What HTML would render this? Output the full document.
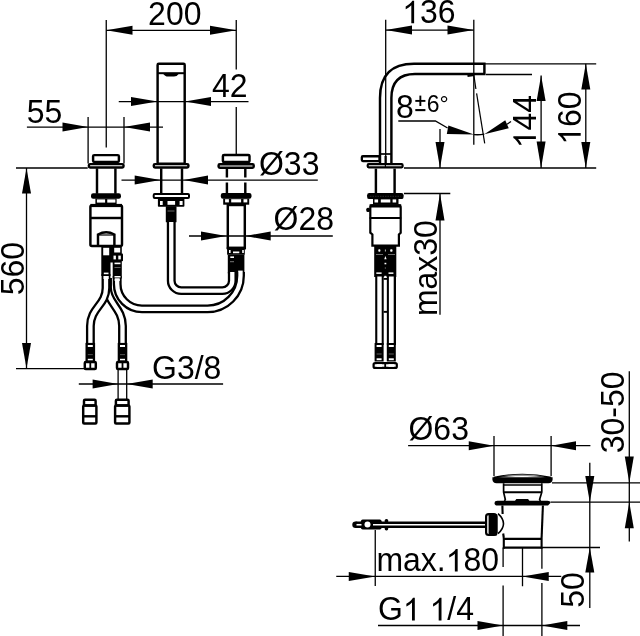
<!DOCTYPE html>
<html><head><meta charset="utf-8"><style>
html,body{margin:0;padding:0;background:#fff;width:640px;height:636px;overflow:hidden}
svg{display:block;will-change:transform}
text{font-family:"Liberation Sans",sans-serif;fill:#000}
</style></head><body>
<svg width="640" height="636" viewBox="0 0 640 636"><g stroke="#000" fill="none">
<line x1="106.25" y1="20" x2="106.25" y2="147.5" stroke-width="1.3"/>
<line x1="236.25" y1="20" x2="236.25" y2="69.4" stroke-width="1.3"/>
<line x1="236.25" y1="106.9" x2="236.25" y2="154.5" stroke-width="1.3"/>
<line x1="106.25" y1="30.3" x2="236.25" y2="30.3" stroke-width="1.3"/>
<polygon fill="#000" stroke="none" points="106.25,30.30 132.50,25.80 132.50,34.80"/>
<polygon fill="#000" stroke="none" points="236.25,30.30 210.00,34.80 210.00,25.80"/>
<g transform="translate(148.1 25.0) scale(1 1.025) translate(-148.1 -25.0)"><text x="148.1" y="25.0" font-size="32" text-anchor="start" fill="#000" stroke="none">200</text></g>
<line x1="118.75" y1="101.6" x2="248.5" y2="101.6" stroke-width="1.3"/>
<polygon fill="#000" stroke="none" points="157.50,101.60 131.00,106.10 131.00,97.10"/>
<polygon fill="#000" stroke="none" points="185.00,101.60 211.00,97.10 211.00,106.10"/>
<g transform="translate(212 96.6) scale(1 1.025) translate(-212 -96.6)"><text x="212" y="96.6" font-size="32" text-anchor="start" fill="#000" stroke="none">42</text></g>
<line x1="26.9" y1="127.1" x2="163" y2="127.1" stroke-width="1.3"/>
<line x1="88.1" y1="117" x2="88.1" y2="163.6" stroke-width="1.3"/>
<line x1="124" y1="117" x2="124" y2="163.6" stroke-width="1.3"/>
<polygon fill="#000" stroke="none" points="88.10,127.10 62.50,131.60 62.50,122.60"/>
<polygon fill="#000" stroke="none" points="124.00,127.10 150.00,122.60 150.00,131.60"/>
<g transform="translate(26.7 123.4) scale(1 1.025) translate(-26.7 -123.4)"><text x="26.7" y="123.4" font-size="32" text-anchor="start" fill="#000" stroke="none">55</text></g>
<rect x="157.6" y="63.7" width="27.099999999999994" height="99.89999999999999" rx="1.2" stroke-width="2.45" fill="none"/>
<line x1="157.5" y1="73.2" x2="185.1" y2="73.2" stroke-width="2"/>
<path d="M162.8,73.2 Q165,76.6 168,76.6 L174,76.6 Q177,76.6 179.4,73.2 Z" stroke-width="0" fill="#000"/>
<rect x="93.1" y="155.1" width="25.80000000000001" height="6.900000000000006" rx="1.2" stroke-width="2.45" fill="none"/>
<rect x="88.9" y="164.1" width="34.599999999999994" height="3.4000000000000057" rx="1.2" stroke-width="2.45" fill="none"/>
<line x1="97" y1="168.3" x2="97" y2="193.8" stroke-width="2.45"/>
<line x1="115.4" y1="168.3" x2="115.4" y2="193.8" stroke-width="2.45"/>
<rect x="91" y="193.2" width="30" height="5.600000000000023" rx="2.2" fill="#000" stroke="none"/>
<rect x="95.4" y="198.5" width="21.19999999999999" height="5.5" rx="0" fill="#000" stroke="none"/>
<rect x="96.9" y="199.4" width="8.199999999999989" height="3.1999999999999886" rx="0" fill="#fff" stroke="none"/>
<rect x="107.25" y="199.4" width="8.150000000000006" height="3.1999999999999886" rx="0" fill="#fff" stroke="none"/>
<rect x="90.4" y="205.5" width="31.599999999999994" height="40.5" rx="1.5" stroke-width="2.45" fill="none"/>
<line x1="90.4" y1="205.5" x2="122" y2="205.5" stroke-width="3.2"/>
<line x1="90.4" y1="218" x2="122" y2="218" stroke-width="2.45"/>
<path d="M98,246 L98,234.5 Q106.2,230 114.4,234.5 L114.4,246" stroke-width="2.45" fill="none"/>
<line x1="98" y1="235" x2="114.4" y2="235" stroke-width="1.2"/>
<rect x="153.8" y="164.1" width="34.599999999999994" height="3.4000000000000057" rx="1.2" stroke-width="2.45" fill="none"/>
<line x1="161.2" y1="168.3" x2="161.2" y2="193.8" stroke-width="2.45"/>
<line x1="182" y1="168.3" x2="182" y2="193.8" stroke-width="2.45"/>
<rect x="153.7" y="194.1" width="35.30000000000001" height="3.8000000000000114" rx="1" stroke-width="2" fill="none"/>
<rect x="157.9" y="197.9" width="26.5" height="8.900000000000006" rx="0.8" fill="#000" stroke="none"/>
<rect x="160" y="201" width="2.6999999999999886" height="4" rx="0" fill="#fff" stroke="none"/>
<rect x="167.5" y="201" width="7.599999999999994" height="3.8000000000000114" rx="0" fill="#fff" stroke="none"/>
<rect x="179.6" y="201" width="3.0" height="4" rx="0" fill="#fff" stroke="none"/>
<rect x="165.8" y="206.3" width="10.699999999999989" height="16.0" rx="0.6" fill="#000" stroke="none"/>
<rect x="167.5" y="210.5" width="7.0" height="1.0" rx="0" fill="#666" stroke="none"/>
<rect x="222.9" y="154.9" width="26.599999999999994" height="7.199999999999989" rx="1.2" stroke-width="2.45" fill="none"/>
<rect x="218.6" y="164.3" width="35.099999999999994" height="3.5" rx="1.2" stroke-width="2.45" fill="none"/>
<line x1="226.9" y1="168.3" x2="226.9" y2="177.5" stroke-width="2.45"/>
<line x1="245.3" y1="168.3" x2="245.3" y2="177.5" stroke-width="2.45"/>
<line x1="226.9" y1="182.5" x2="226.9" y2="193.8" stroke-width="2.45"/>
<line x1="245.3" y1="182.5" x2="245.3" y2="193.8" stroke-width="2.45"/>
<rect x="220.8" y="192.9" width="30.69999999999999" height="5.900000000000006" rx="2.2" fill="#000" stroke="none"/>
<rect x="223.2" y="198.6" width="26.0" height="6.099999999999994" rx="0" fill="#000" stroke="none"/>
<rect x="225.1" y="199.2" width="3.8000000000000114" height="3.200000000000017" rx="0" fill="#fff" stroke="none"/>
<rect x="231.2" y="199.2" width="9.900000000000006" height="3.200000000000017" rx="0" fill="#fff" stroke="none"/>
<rect x="243.5" y="199.2" width="3.8000000000000114" height="3.200000000000017" rx="0" fill="#fff" stroke="none"/>
<rect x="227.8" y="205" width="17.0" height="42.80000000000001" rx="0" stroke-width="2.45" fill="none"/>
<rect x="226.8" y="247" width="19.0" height="2.5" rx="0" fill="#000" stroke="none"/>
<rect x="227.1" y="249" width="17.700000000000017" height="5.699999999999989" rx="0" fill="#000" stroke="none"/>
<rect x="229" y="250" width="1.5999999999999943" height="3" rx="0" fill="#fff" stroke="none"/>
<rect x="233" y="251.5" width="6.300000000000011" height="1.6999999999999886" rx="0" fill="#fff" stroke="none"/>
<rect x="242.2" y="250" width="1.6000000000000227" height="3" rx="0" fill="#fff" stroke="none"/>
<rect x="227.8" y="254.5" width="16.599999999999994" height="18.899999999999977" rx="0" fill="#000" stroke="none"/>
<rect x="230.3" y="256.4" width="3.6999999999999886" height="1.6000000000000227" rx="0" fill="#fff" stroke="none"/>
<rect x="230" y="261.2" width="4" height="1.0" rx="0" fill="#777" stroke="none"/>
<rect x="238.2" y="270.6" width="4.5" height="1.599999999999966" rx="0" fill="#fff" stroke="none"/>
<line x1="121.5" y1="180.1" x2="317.8" y2="180.1" stroke-width="1.3"/>
<polygon fill="#000" stroke="none" points="160.50,180.10 134.70,184.60 134.70,175.60"/>
<polygon fill="#000" stroke="none" points="183.80,180.10 208.00,175.60 208.00,184.60"/>
<g transform="translate(259 175.5) scale(1 1.025) translate(-259 -175.5)"><text x="259" y="175.5" font-size="32" text-anchor="start" fill="#000" stroke="none">Ø33</text></g>
<line x1="189" y1="236" x2="332.8" y2="236" stroke-width="1.3"/>
<polygon fill="#000" stroke="none" points="226.20,236.00 201.00,240.50 201.00,231.50"/>
<polygon fill="#000" stroke="none" points="245.40,236.00 270.70,231.50 270.70,240.50"/>
<g transform="translate(273.6 230.1) scale(1 1.025) translate(-273.6 -230.1)"><text x="273.6" y="230.1" font-size="32" text-anchor="start" fill="#000" stroke="none">Ø28</text></g>
<path d="M171.25,222 L171.25,280.6 A10,10 0 0 0 181.25,290.65 L222.3,290.65 A10,10 0 0 0 232.3,280.6 L232.3,272" stroke="#000" stroke-width="8.9" fill="none"/>
<path d="M171.25,222 L171.25,280.6 A10,10 0 0 0 181.25,290.65 L222.3,290.65 A10,10 0 0 0 232.3,280.6 L232.3,272" stroke="#fff" stroke-width="4.3" fill="none"/>
<path d="M107.5,278 L107.5,288 C107.5,303 122.5,308 122.5,326 L122.5,345" stroke="#000" stroke-width="8.9" fill="none"/>
<path d="M107.5,278 L107.5,288 C107.5,303 122.5,308 122.5,326 L122.5,345" stroke="#fff" stroke-width="4.3" fill="none"/>
<path d="M106,274 L106,288 C106,305 90.4,308 90.4,326 L90.4,345" stroke="#000" stroke-width="8.9" fill="none"/>
<path d="M106,274 L106,288 C106,305 90.4,308 90.4,326 L90.4,345" stroke="#fff" stroke-width="4.3" fill="none"/>
<path d="M117.2,276 L117.2,284 A24.8,24.8 0 0 0 142,308.9 L207.5,308.9 A33,33 0 0 0 240.5,275.8 L240.5,272" stroke="#000" stroke-width="8.9" fill="none"/>
<path d="M117.2,276 L117.2,284 A24.8,24.8 0 0 0 142,308.9 L207.5,308.9 A33,33 0 0 0 240.5,275.8 L240.5,272" stroke="#fff" stroke-width="4.3" fill="none"/>
<rect x="101.3" y="246" width="9.200000000000003" height="30" rx="0" fill="#000" stroke="none"/>
<rect x="103.2" y="247.8" width="6.0" height="7.5" rx="0" fill="#fff" stroke="none"/>
<rect x="103.8" y="272.6" width="4.700000000000003" height="1.599999999999966" rx="0" fill="#fff" stroke="none"/>
<rect x="103.5" y="276" width="5.200000000000003" height="3" rx="0" fill="#fff" stroke="none"/>
<rect x="112.7" y="246" width="9.099999999999994" height="32.5" rx="0" fill="#000" stroke="none"/>
<rect x="110" y="246" width="3" height="16.5" rx="0" fill="#000" stroke="none"/>
<rect x="112.2" y="253.4" width="10.799999999999997" height="7.900000000000006" rx="0.8" fill="#000" stroke="none"/>
<rect x="114.2" y="247.8" width="6.0" height="4.699999999999989" rx="0" fill="#fff" stroke="none"/>
<rect x="113.5" y="255.6" width="2.4000000000000057" height="3.799999999999983" rx="0" fill="#fff" stroke="none"/>
<rect x="118.3" y="255.6" width="2.5" height="3.799999999999983" rx="0" fill="#fff" stroke="none"/>
<rect x="114.5" y="262.6" width="6.0" height="1.599999999999966" rx="0" fill="#fff" stroke="none"/>
<rect x="114.5" y="267.2" width="6.0" height="0.8000000000000114" rx="0" fill="#777" stroke="none"/>
<rect x="114.5" y="276.0" width="6.0" height="1.5" rx="0" fill="#fff" stroke="none"/>
<rect x="114.6" y="278.5" width="5.200000000000003" height="2.5" rx="0" fill="#fff" stroke="none"/>
<rect x="85.5" y="342.9" width="9.599999999999994" height="19.100000000000023" rx="0" fill="#000" stroke="none"/>
<rect x="87.8" y="345" width="5.0" height="2" rx="0" fill="#fff" stroke="none"/>
<rect x="87.8" y="358.8" width="5.0" height="1.599999999999966" rx="0" fill="#fff" stroke="none"/>
<rect x="87.8" y="354.3" width="5.0" height="0.8000000000000114" rx="0" fill="#666" stroke="none"/>
<rect x="84.8" y="362" width="11.0" height="7" rx="1" stroke-width="2.45" fill="none"/>
<line x1="90.3" y1="362" x2="90.3" y2="369" stroke-width="1.8"/>
<rect x="117.7" y="342.9" width="9.599999999999994" height="19.100000000000023" rx="0" fill="#000" stroke="none"/>
<rect x="120.0" y="345" width="5.0" height="2" rx="0" fill="#fff" stroke="none"/>
<rect x="120.0" y="358.8" width="5.0" height="1.599999999999966" rx="0" fill="#fff" stroke="none"/>
<rect x="120.0" y="354.3" width="5.0" height="0.8000000000000114" rx="0" fill="#666" stroke="none"/>
<rect x="117.0" y="362" width="11.0" height="7" rx="1" stroke-width="2.45" fill="none"/>
<line x1="122.5" y1="362" x2="122.5" y2="369" stroke-width="1.8"/>
<line x1="16" y1="168" x2="87.7" y2="168" stroke-width="1.3"/>
<line x1="16" y1="368.6" x2="84.3" y2="368.6" stroke-width="1.3"/>
<line x1="26.5" y1="168" x2="26.5" y2="368.6" stroke-width="1.3"/>
<polygon fill="#000" stroke="none" points="26.50,168.00 31.00,193.50 22.00,193.50"/>
<polygon fill="#000" stroke="none" points="26.50,368.60 22.00,343.10 31.00,343.10"/>
<g transform="rotate(-90 23.6 295.2) translate(23.6 295.2) scale(1 1.025) translate(-23.6 -295.2)"><text x="23.6" y="295.2" font-size="32" text-anchor="start" fill="#000" stroke="none">560</text></g>
<line x1="118.1" y1="369" x2="118.1" y2="399.8" stroke-width="1.3"/>
<line x1="126.7" y1="369" x2="126.7" y2="399.8" stroke-width="1.3"/>
<line x1="78.8" y1="384" x2="223.1" y2="384" stroke-width="1.3"/>
<polygon fill="#000" stroke="none" points="118.10,384.00 92.60,388.50 92.60,379.50"/>
<polygon fill="#000" stroke="none" points="126.70,384.00 152.70,379.50 152.70,388.50"/>
<g transform="translate(152 379.3) scale(1 1.025) translate(-152 -379.3)"><text x="152" y="379.3" font-size="32" text-anchor="start" fill="#000" stroke="none">G3/8</text></g>
<rect x="84.0" y="399.8" width="11.600000000000009" height="5.699999999999989" rx="1" stroke-width="2.45" fill="none"/>
<rect x="83.2" y="405.5" width="13.200000000000003" height="18.0" rx="1" stroke-width="2.45" fill="none"/>
<line x1="83.2" y1="416.3" x2="96.4" y2="416.3" stroke-width="2.45"/>
<rect x="115.89999999999999" y="399.8" width="12.700000000000003" height="5.699999999999989" rx="1" stroke-width="2.45" fill="none"/>
<rect x="115.1" y="405.5" width="14.300000000000011" height="18.0" rx="1" stroke-width="2.45" fill="none"/>
<line x1="115.1" y1="416.3" x2="129.4" y2="416.3" stroke-width="2.45"/>
<line x1="385.7" y1="19.8" x2="385.7" y2="163.7" stroke-width="1.3"/>
<line x1="473.8" y1="19.8" x2="473.8" y2="144.7" stroke-width="1.3"/>
<line x1="385.7" y1="30.1" x2="473.8" y2="30.1" stroke-width="1.3"/>
<polygon fill="#000" stroke="none" points="385.70,30.10 412.00,25.60 412.00,34.60"/>
<polygon fill="#000" stroke="none" points="473.80,30.10 447.50,34.60 447.50,25.60"/>
<g transform="translate(402.2 23.2) scale(1 1.025) translate(-402.2 -23.2)"><text x="402.2" y="23.2" font-size="32" text-anchor="start" fill="#000" stroke="none"> 36</text><path d="M583,0 L763,0 L763,-1409 L646,-1409 C615,-1345 560,-1280 480,-1215 C400,-1140 300,-1080 223,-1045 L223,-875 C270,-895 350,-935 420,-980 C490,-1040 545,-1080 583,-1115 Z" transform="translate(402.200 23.2) scale(0.015625)" fill="#000" stroke="none"/></g>
<path d="M380,163.7 L380,98 Q380,63.8 414,63.8 L484.4,63.8 L484.4,73.9 L415,73.9 Q391.4,73.9 391.4,98 L391.4,163.7" stroke-width="2.45" fill="none"/>
<line x1="484.8" y1="63.8" x2="596.2" y2="63.8" stroke-width="1.3"/>
<line x1="486" y1="74.5" x2="532" y2="74.5" stroke-width="1.3"/>
<path d="M467.5,76 L474.5,75" stroke-width="2" fill="none"/>
<line x1="474" y1="76" x2="475.9" y2="89" stroke-width="1.2"/>
<line x1="476.6" y1="93.3" x2="484.7" y2="143.4" stroke-width="1.2"/>
<polygon fill="#000" stroke="none" points="474.00,134.60 446.83,134.03 448.37,125.57"/>
<polygon fill="#000" stroke="none" points="484.30,134.20 505.27,120.26 508.73,128.14"/>
<path d="M474,134.6 Q479,135 484.3,134.2" stroke-width="1.3" fill="none"/>
<path d="M398.3,121 L435.4,121 L447.6,128" stroke-width="1.3" fill="none"/>
<line x1="507" y1="124.2" x2="511" y2="121.5" stroke-width="1.3"/>
<g transform="translate(396 118.2) scale(1 1.025) translate(-396 -118.2)"><text x="396" y="118.2" font-size="32" text-anchor="start" fill="#000" stroke="none">8</text></g>
<line x1="420.35" y1="95.6" x2="420.35" y2="106" stroke-width="1.9"/>
<line x1="415.3" y1="100.9" x2="425.4" y2="100.9" stroke-width="1.9"/>
<line x1="415.3" y1="110.1" x2="425.4" y2="110.1" stroke-width="2.1"/>
<g transform="translate(426.8 112.2) scale(1 1.025) translate(-426.8 -112.2)"><text x="426.8" y="112.2" font-size="23" text-anchor="start" fill="#000" stroke="none">6°</text></g>
<rect x="361.85" y="156.25" width="17.69999999999999" height="4.800000000000011" rx="1" stroke-width="2.3" fill="none"/>
<rect x="379" y="161" width="2" height="3" rx="0" fill="#000" stroke="none"/>
<line x1="380" y1="154" x2="391.4" y2="154" stroke-width="1.7"/>
<line x1="385.6" y1="156" x2="385.6" y2="163" stroke-width="2.2"/>
<rect x="367.7" y="164.2" width="34.900000000000034" height="3.1000000000000227" rx="1" stroke-width="2.2" fill="none"/>
<line x1="385.4" y1="164.5" x2="385.4" y2="167" stroke-width="1.2"/>
<line x1="375.9" y1="168.6" x2="375.9" y2="193.4" stroke-width="2.45"/>
<line x1="394.6" y1="168.6" x2="394.6" y2="193.4" stroke-width="2.45"/>
<rect x="367.1" y="193.1" width="36.5" height="6.0" rx="2.2" fill="#000" stroke="none"/>
<line x1="370" y1="196.3" x2="400.5" y2="196.3" stroke="#444" stroke-width="0.6" stroke-dasharray="1.5,1"/>
<rect x="373" y="199" width="25.5" height="5.599999999999994" rx="0" fill="#000" stroke="none"/>
<rect x="374.5" y="199.4" width="3.6000000000000227" height="3.0999999999999943" rx="0" fill="#fff" stroke="none"/>
<rect x="380.8" y="199.4" width="9.5" height="3.0999999999999943" rx="0" fill="#fff" stroke="none"/>
<rect x="392.6" y="199.4" width="3.599999999999966" height="3.0999999999999943" rx="0" fill="#fff" stroke="none"/>
<path d="M372,205.4 L399,205.4 Q400.7,205.4 400.7,208 L400.7,232.7 L398.9,234.5 L398.9,245.6 L372.4,245.6 L372.4,234.5 L370.3,232.7 L370.3,208 Q370.3,205.4 372,205.4 Z" stroke-width="2.2" fill="none"/>
<line x1="369.6" y1="205.9" x2="401.2" y2="205.9" stroke-width="3.2"/>
<rect x="366.3" y="207.8" width="3.6999999999999886" height="4.199999999999989" rx="1.5" fill="#000" stroke="none"/>
<line x1="369.6" y1="218" x2="401.2" y2="218" stroke-width="2.1"/>
<rect x="374.2" y="245.6" width="22.100000000000023" height="31.400000000000006" rx="0" fill="#000" stroke="none"/>
<rect x="378.3" y="249.3" width="2.099999999999966" height="2.3999999999999773" rx="0.8" fill="#fff" stroke="none"/>
<rect x="390.2" y="249.3" width="2.3000000000000114" height="2.3999999999999773" rx="0.8" fill="#fff" stroke="none"/>
<rect x="384.9" y="249.5" width="1.0" height="2.0" rx="0" fill="#bbb" stroke="none"/>
<rect x="376" y="254.2" width="7" height="0.8000000000000114" rx="0" fill="#888" stroke="none"/>
<rect x="388" y="254.2" width="7" height="0.8000000000000114" rx="0" fill="#888" stroke="none"/>
<polygon points="385.4,256 386.6,259.2 384.2,259.2" fill="#fff" stroke="none"/>
<rect x="384.5" y="262.8" width="1.8000000000000114" height="1.5" rx="0" fill="#fff" stroke="none"/>
<rect x="384.8" y="267.6" width="1.1999999999999886" height="0.7999999999999545" rx="0" fill="#999" stroke="none"/>
<rect x="376.3" y="272.4" width="5.300000000000011" height="1.5" rx="0" fill="#fff" stroke="none"/>
<rect x="388.5" y="272.4" width="4.899999999999977" height="1.5" rx="0" fill="#fff" stroke="none"/>
<rect x="384.4" y="275.8" width="2.0" height="1.5" rx="0" fill="#fff" stroke="none"/>
<path d="M379.5,276.5 L379.5,345" stroke="#000" stroke-width="8.6" fill="none"/>
<path d="M379.5,276.5 L379.5,345" stroke="#fff" stroke-width="4.4" fill="none"/>
<path d="M391.3,276.5 L391.3,345" stroke="#000" stroke-width="9.4" fill="none"/>
<path d="M391.3,276.5 L391.3,345" stroke="#fff" stroke-width="4.8" fill="none"/>
<rect x="383.9" y="276.5" width="2.7000000000000455" height="68.5" rx="0" fill="#fff" stroke="none"/>
<rect x="383.6" y="278" width="3.3999999999999773" height="1.8000000000000114" rx="0" fill="#000" stroke="none"/>
<rect x="383.6" y="310.9" width="3.3999999999999773" height="1.900000000000034" rx="0" fill="#000" stroke="none"/>
<rect x="374.6" y="343" width="9.0" height="18.5" rx="0" fill="#000" stroke="none"/>
<rect x="376.6" y="345" width="5.0" height="2" rx="0" fill="#fff" stroke="none"/>
<rect x="376.6" y="358.3" width="5.0" height="1.8999999999999773" rx="0" fill="#fff" stroke="none"/>
<rect x="376.6" y="353.6" width="5.0" height="0.7999999999999545" rx="0" fill="#777" stroke="none"/>
<rect x="386.8" y="343" width="9.0" height="18.5" rx="0" fill="#000" stroke="none"/>
<rect x="388.8" y="345" width="5.0" height="2" rx="0" fill="#fff" stroke="none"/>
<rect x="388.8" y="358.3" width="5.0" height="1.8999999999999773" rx="0" fill="#fff" stroke="none"/>
<rect x="388.8" y="353.6" width="5.0" height="0.7999999999999545" rx="0" fill="#777" stroke="none"/>
<rect x="373.6" y="363.1" width="23.19999999999999" height="4.7999999999999545" rx="1.5" stroke-width="2.2" fill="none"/>
<line x1="385.2" y1="362" x2="385.2" y2="369" stroke-width="1.8"/>
<rect x="376.5" y="364.2" width="5.5" height="2.6000000000000227" rx="0" fill="#fff" stroke="none"/>
<rect x="388.5" y="364.2" width="5.5" height="2.6000000000000227" rx="0" fill="#fff" stroke="none"/>
<line x1="404" y1="168" x2="596.2" y2="168" stroke-width="1.3"/>
<line x1="404" y1="193.5" x2="450.3" y2="193.5" stroke-width="1.3"/>
<line x1="541.1" y1="75.5" x2="541.1" y2="168" stroke-width="1.3"/>
<polygon fill="#000" stroke="none" points="541.10,75.50 545.60,101.00 536.60,101.00"/>
<polygon fill="#000" stroke="none" points="541.10,168.00 536.60,141.50 545.60,141.50"/>
<g transform="rotate(-90 535.9 148.2) translate(535.9 148.2) scale(1 1.025) translate(-535.9 -148.2)"><text x="535.9" y="148.2" font-size="32" text-anchor="start" fill="#000" stroke="none"> 44</text><path d="M583,0 L763,0 L763,-1409 L646,-1409 C615,-1345 560,-1280 480,-1215 C400,-1140 300,-1080 223,-1045 L223,-875 C270,-895 350,-935 420,-980 C490,-1040 545,-1080 583,-1115 Z" transform="translate(535.900 148.2) scale(0.015625)" fill="#000" stroke="none"/></g>
<line x1="585.8" y1="63.8" x2="585.8" y2="168" stroke-width="1.3"/>
<polygon fill="#000" stroke="none" points="585.80,63.80 590.30,89.60 581.30,89.60"/>
<polygon fill="#000" stroke="none" points="585.80,168.00 581.30,142.00 590.30,142.00"/>
<g transform="rotate(-90 580.7 144.8) translate(580.7 144.8) scale(1 1.025) translate(-580.7 -144.8)"><text x="580.7" y="144.8" font-size="32" text-anchor="start" fill="#000" stroke="none"> 60</text><path d="M583,0 L763,0 L763,-1409 L646,-1409 C615,-1345 560,-1280 480,-1215 C400,-1140 300,-1080 223,-1045 L223,-875 C270,-895 350,-935 420,-980 C490,-1040 545,-1080 583,-1115 Z" transform="translate(580.700 144.8) scale(0.015625)" fill="#000" stroke="none"/></g>
<line x1="440" y1="129" x2="440" y2="168" stroke-width="1.3"/>
<polygon fill="#000" stroke="none" points="440.00,168.00 435.50,142.00 444.50,142.00"/>
<line x1="440" y1="193.5" x2="440" y2="314.7" stroke-width="1.3"/>
<polygon fill="#000" stroke="none" points="440.00,193.50 444.50,220.40 435.50,220.40"/>
<g transform="rotate(-90 436.8 316.1) translate(436.8 316.1) scale(1 1.025) translate(-436.8 -316.1)"><text x="436.8" y="316.1" font-size="32" text-anchor="start" fill="#000" stroke="none">max30</text></g>
<line x1="408.1" y1="445.7" x2="590.4" y2="445.7" stroke-width="1.3"/>
<line x1="494" y1="436" x2="494" y2="476" stroke-width="1.3"/>
<line x1="551.1" y1="436" x2="551.1" y2="476" stroke-width="1.3"/>
<polygon fill="#000" stroke="none" points="494.00,445.70 468.75,450.20 468.75,441.20"/>
<polygon fill="#000" stroke="none" points="551.10,445.70 576.00,441.20 576.00,450.20"/>
<g transform="translate(408.5 440.1) scale(1 1.025) translate(-408.5 -440.1)"><text x="408.5" y="440.1" font-size="32" text-anchor="start" fill="#000" stroke="none">Ø63</text></g>
<path d="M493.8,477.8 Q522.5,471.6 551.2,477.8" stroke-width="2.1" fill="none"/>
<path d="M500,476.6 Q522.5,472.6 545,476.6 Q522.5,475.2 500,476.6 Z" fill="#999" stroke="none"/>
<path d="M492.4,477.2 L552.6,477.2 L552.6,479.5 Q552.2,483.3 548.5,483.3 L496.5,483.3 Q492.8,483.3 492.4,479.5 Z" stroke-width="0" fill="#000"/>
<line x1="503.6" y1="485" x2="541.8" y2="485" stroke-width="1.4"/>
<line x1="503.6" y1="492.2" x2="541.8" y2="492.2" stroke-width="2"/>
<path d="M503.6,483.3 L503.6,492.2 L505.3,499.5 L504.5,501" stroke-width="1.7" fill="none"/>
<path d="M541.8,483.3 L541.8,492.2 L539.6,499.5 L540.4,501" stroke-width="1.7" fill="none"/>
<path d="M514.8,501.2 L516.3,499 L528.1,499 L529.6,501.2 Z" stroke-width="0" fill="#000"/>
<path d="M494.6,503.2 Q494.6,500.8 497.5,500.8 L547.5,500.8 Q550.4,500.8 550.4,503 L548,505.6 L497.5,505.6 Q494.6,505.6 494.6,503.2 Z" stroke-width="0" fill="#000"/>
<path d="M502.4,505.5 L502.6,514" stroke-width="2.1" fill="none"/>
<path d="M503.2,533.5 L503.8,538" stroke-width="2.1" fill="none"/>
<path d="M542.9,505.5 L541.6,538" stroke-width="2.1" fill="none"/>
<line x1="503.3" y1="538.8" x2="541.8" y2="538.8" stroke-width="2.2"/>
<line x1="503.3" y1="547.6" x2="541.8" y2="547.6" stroke-width="2.2"/>
<line x1="503.8" y1="538" x2="503.8" y2="548.7" stroke-width="2.1"/>
<line x1="541.6" y1="538" x2="541.6" y2="548.7" stroke-width="2.1"/>
<path d="M498,513.7 Q509,523.7 498,533.6" stroke-width="1.6" fill="none"/>
<rect x="486.1" y="514.2" width="10.299999999999955" height="20.799999999999955" rx="2.5" stroke-width="2.2" fill="none"/>
<rect x="488.6" y="514.2" width="8.599999999999966" height="21.299999999999955" rx="1" fill="#000" stroke="none"/>
<line x1="496.6" y1="516" x2="496.6" y2="533" stroke-width="1.4"/>
<line x1="355.6" y1="524.7" x2="486" y2="524.7" stroke-width="6.6"/>
<circle cx="355.6" cy="524.7" r="3.3" fill="#000" stroke="none"/>
<rect x="360.9" y="519.4" width="20.700000000000045" height="10.200000000000045" rx="1.8" fill="#000" stroke="none"/>
<circle cx="367.5" cy="524.5" r="3" fill="#fff" stroke="none"/>
<rect x="384.7" y="519" width="3.5" height="11.399999999999977" rx="1.6" fill="#000" stroke="none"/>
<line x1="356.5" y1="524.75" x2="361.5" y2="524.75" stroke="#fff" stroke-width="1.6"/>
<line x1="373" y1="524.75" x2="485" y2="524.75" stroke="#fff" stroke-width="1.6"/>
<line x1="552" y1="482.8" x2="640" y2="482.8" stroke-width="1.3"/>
<line x1="550.4" y1="502.2" x2="640" y2="502.2" stroke-width="1.3"/>
<line x1="541.9" y1="547.5" x2="600" y2="547.5" stroke-width="1.3"/>
<line x1="629.3" y1="371.3" x2="629.3" y2="541.5" stroke-width="1.3"/>
<polygon fill="#000" stroke="none" points="629.30,482.80 624.80,456.60 633.80,456.60"/>
<polygon fill="#000" stroke="none" points="629.30,502.20 633.80,528.20 624.80,528.20"/>
<g transform="rotate(-90 624.3 453.3) translate(624.3 453.3) scale(1 1.025) translate(-624.3 -453.3)"><text x="624.3" y="453.3" font-size="32" text-anchor="start" fill="#000" stroke="none">30-50</text></g>
<line x1="589.8" y1="462.7" x2="589.8" y2="608" stroke-width="1.3"/>
<polygon fill="#000" stroke="none" points="589.80,502.20 585.30,476.00 594.30,476.00"/>
<polygon fill="#000" stroke="none" points="589.80,547.50 594.30,572.60 585.30,572.60"/>
<g transform="rotate(-90 583.8 607.7) translate(583.8 607.7) scale(1 1.025) translate(-583.8 -607.7)"><text x="583.8" y="607.7" font-size="32" text-anchor="start" fill="#000" stroke="none">50</text></g>
<line x1="375.25" y1="530" x2="375.25" y2="586" stroke-width="1.3"/>
<line x1="336.25" y1="576.4" x2="561.25" y2="576.4" stroke-width="1.3"/>
<polygon fill="#000" stroke="none" points="375.25,576.40 348.75,580.90 348.75,571.90"/>
<polygon fill="#000" stroke="none" points="522.50,576.40 548.75,571.90 548.75,580.90"/>
<line x1="503.1" y1="547.5" x2="503.1" y2="566.9" stroke-width="1.3"/>
<line x1="503.1" y1="585.6" x2="503.1" y2="636" stroke-width="1.3"/>
<line x1="522.5" y1="547.5" x2="522.5" y2="586.25" stroke-width="1.3"/>
<line x1="541.9" y1="547.5" x2="541.9" y2="568.75" stroke-width="1.3"/>
<line x1="541.9" y1="583" x2="541.9" y2="636" stroke-width="1.3"/>
<g transform="translate(376.4 571.5) scale(1 1.025) translate(-376.4 -571.5)"><text x="376.4" y="571.5" font-size="32" text-anchor="start" fill="#000" stroke="none">max. 80</text><path d="M583,0 L763,0 L763,-1409 L646,-1409 C615,-1345 560,-1280 480,-1215 C400,-1140 300,-1080 223,-1045 L223,-875 C270,-895 350,-935 420,-980 C490,-1040 545,-1080 583,-1115 Z" transform="translate(445.744 571.5) scale(0.015625)" fill="#000" stroke="none"/></g>
<line x1="378" y1="625.5" x2="580" y2="625.5" stroke-width="1.3"/>
<polygon fill="#000" stroke="none" points="503.10,625.50 477.50,630.00 477.50,621.00"/>
<polygon fill="#000" stroke="none" points="541.90,625.50 567.30,621.00 567.30,630.00"/>
<g transform="translate(378 620.4) scale(1 1.025) translate(-378 -620.4)"><text x="378" y="620.4" font-size="32" text-anchor="start" fill="#000" stroke="none">G   /4</text><path d="M583,0 L763,0 L763,-1409 L646,-1409 C615,-1345 560,-1280 480,-1215 C400,-1140 300,-1080 223,-1045 L223,-875 C270,-895 350,-935 420,-980 C490,-1040 545,-1080 583,-1115 Z" transform="translate(402.891 620.4) scale(0.015625)" fill="#000" stroke="none"/><path d="M583,0 L763,0 L763,-1409 L646,-1409 C615,-1345 560,-1280 480,-1215 C400,-1140 300,-1080 223,-1045 L223,-875 C270,-895 350,-935 420,-980 C490,-1040 545,-1080 583,-1115 Z" transform="translate(429.578 620.4) scale(0.015625)" fill="#000" stroke="none"/></g>
</g></svg></body></html>
